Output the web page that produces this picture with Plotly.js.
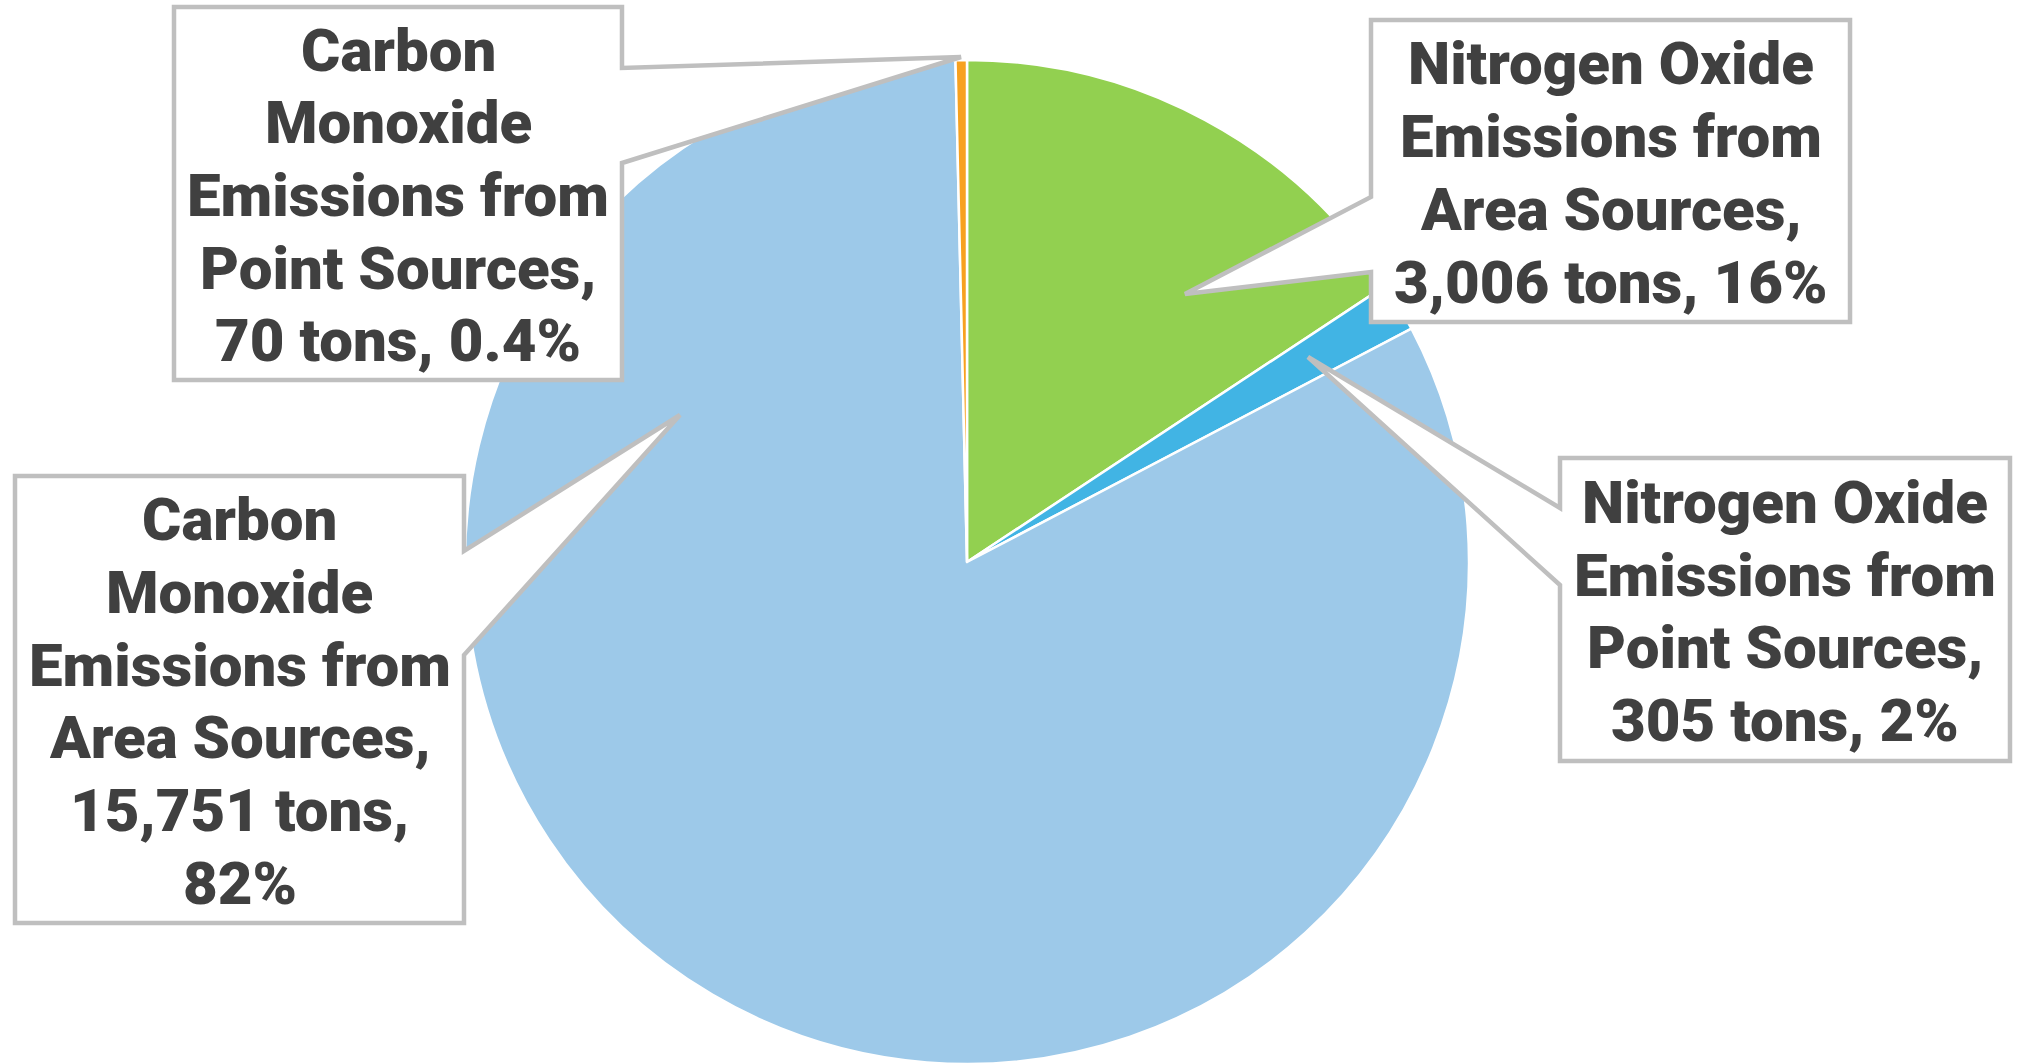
<!DOCTYPE html>
<html>
<head>
<meta charset="utf-8">
<script src="https://cdn.plot.ly/plotly-3.0.1.min.js"></script>
<style>
  html, body { margin: 0; padding: 0; background: #ffffff; }
  #chart { width: 2019px; height: 1064px; }
</style>
</head>
<body>
<div id="chart"></div>
<script>
// ---- Data ----
const categories = [
  "Nitrogen Oxide Emissions from Area Sources",
  "Nitrogen Oxide Emissions from Point Sources",
  "Carbon Monoxide Emissions from Area Sources",
  "Carbon Monoxide Emissions from Point Sources"
];
const labelLines = [
  "Nitrogen Oxide<br>Emissions from<br>Area Sources",
  "Nitrogen Oxide<br>Emissions from<br>Point Sources",
  "Carbon<br>Monoxide<br>Emissions from<br>Area Sources",
  "Carbon<br>Monoxide<br>Emissions from<br>Point Sources"
];
const tons = [3006, 305, 15751, 70];
const valueSeparators = [" ", " ", "<br>", " "];
const sliceColors = ["#92D050", "#41B4E4", "#9DC9E9", "#F7A11F"];

// ---- Layout constants (pixels) ----
const W = 2019, H = 1064;
const pieCenter = [967, 562], pieRadius = 502;
const lineStep = 72.7;
const callouts = [
  { box: [1371, 20, 1850, 322], side: "left",  j: [197, 272], tip: [1185, 294] },
  { box: [1560, 458, 2010, 761], side: "left", j: [508, 585], tip: [1308, 357] },
  { box: [15, 476, 464, 923],   side: "right", j: [551, 655], tip: [680, 415] },
  { box: [174, 7, 622, 380],    side: "right", j: [68, 163],  tip: [961, 57] }
];

const px = x => x / W;
const py = y => 1 - y / H;

const total = tons.reduce((a, b) => a + b, 0);
function pctLabel(v) {
  const p = v / total * 100;
  return (p >= 1 ? Math.round(p).toString() : p.toFixed(1)) + "%";
}

function calloutPath(c) {
  const [x0, y0, x1, y1] = c.box;
  let pts;
  if (c.side === "left") {
    pts = [[x0, y0], [x1, y0], [x1, y1], [x0, y1], [x0, c.j[1]], c.tip, [x0, c.j[0]]];
  } else {
    pts = [[x0, y0], [x1, y0], [x1, c.j[0]], c.tip, [x1, c.j[1]], [x1, y1], [x0, y1]];
  }
  return pts.map((p, i) => (i === 0 ? "M" : "L") + px(p[0]).toFixed(5) + "," + py(p[1]).toFixed(5)).join(" ") + " Z";
}

const shapes = callouts.map(c => ({
  type: "path",
  xref: "paper", yref: "paper",
  path: calloutPath(c),
  fillcolor: "#FFFFFF",
  line: { color: "#BFBFBF", width: 4.5 },
  layer: "above"
}));

const annotations = [];
callouts.forEach((c, i) => {
  const fullText = labelLines[i] + ",<br>" + tons[i].toLocaleString("en-US") + " tons," + valueSeparators[i] + pctLabel(tons[i]);
  const lines = fullText.split("<br>");
  const cx = (c.box[0] + c.box[2]) / 2;
  const cy = (c.box[1] + c.box[3]) / 2 + 2;
  lines.forEach((ln, k) => {
    annotations.push({
      xref: "paper", yref: "paper",
      x: px(cx),
      y: py(cy + (k - (lines.length - 1) / 2) * lineStep),
      xanchor: "center", yanchor: "middle",
      showarrow: false,
      align: "center",
      text: ln,
      font: { family: "Roboto, 'Liberation Sans', sans-serif", size: 60, color: "#404040", weight: 900 }
    });
  });
});

const trace = {
  type: "pie",
  labels: categories,
  values: tons,
  sort: false,
  direction: "clockwise",
  rotation: 0,
  textinfo: "none",
  hoverinfo: "none",
  marker: { colors: sliceColors, line: { color: "#FFFFFF", width: 2.5 } },
  domain: {
    x: [px(pieCenter[0] - pieRadius), px(pieCenter[0] + pieRadius)],
    y: [py(pieCenter[1] + pieRadius), py(pieCenter[1] - pieRadius)]
  },
  showlegend: false
};

const layout = {
  width: W, height: H,
  margin: { l: 0, r: 0, t: 0, b: 0, pad: 0 },
  paper_bgcolor: "#FFFFFF",
  showlegend: false,
  shapes: shapes,
  annotations: annotations
};

Plotly.newPlot("chart", [trace], layout, { displayModeBar: false, staticPlot: true });
</script>
</body>
</html>
